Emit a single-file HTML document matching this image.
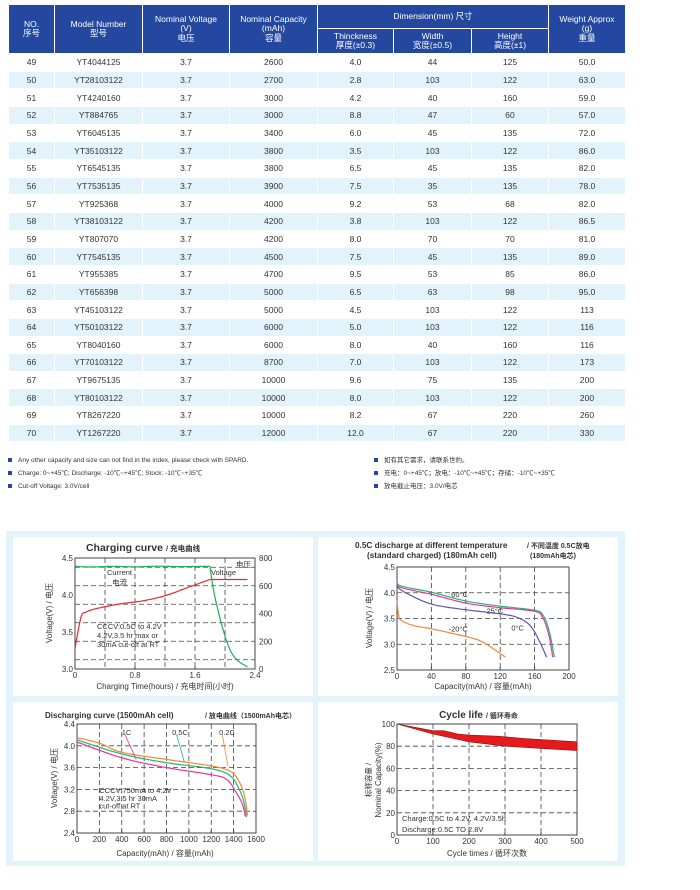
<!DOCTYPE html>
<html><head><meta charset="utf-8">
<style>
*{margin:0;padding:0;box-sizing:border-box}
body{width:700px;height:890px;background:#fff;position:relative;overflow:hidden;font-family:"Liberation Sans","Noto Sans CJK SC",sans-serif;color:#333}
table{position:absolute;left:8px;top:4px;border-collapse:collapse;table-layout:fixed;width:617px}
td,th{text-align:center;border:1px solid #fff;font-weight:normal;padding:0;white-space:nowrap;overflow:hidden}
th{background:#2447a0;color:#fff;font-size:8.5px;line-height:9.5px}
td{font-size:8.5px;height:17.67px;color:#333}
tr.e td{background:#e2f3fb}
.note{position:absolute;font-size:6.5px;line-height:8px;height:8px;color:#333;white-space:nowrap}
.note:before{content:"";display:inline-block;width:4px;height:4px;background:#2447a0;margin-right:6px;vertical-align:middle}
#box{position:absolute;left:6px;top:531px;width:619px;height:335px;background:#e3f3fb}
.pnl{position:absolute;background:#fff}
svg{position:absolute;left:0;top:0}
</style></head><body>
<table>
<colgroup><col style="width:46px"><col style="width:88px"><col style="width:87px"><col style="width:88px"><col style="width:76px"><col style="width:78px"><col style="width:77px"><col style="width:77px"></colgroup>
<tr style="height:24px"><th rowspan="2">NO.<br>序号</th><th rowspan="2">Model Number<br>型号</th><th rowspan="2">Nominal Voltage<br>(V)<br>电压</th><th rowspan="2">Nominal Capacity<br>(mAh)<br>容量</th><th colspan="3">Dimension(mm) 尺寸</th><th rowspan="2">Weight Approx<br>(g)<br>重量</th></tr>
<tr style="height:25px"><th>Thinckness<br>厚度(±0.3)</th><th>Width<br>宽度(±0.5)</th><th>Height<br>高度(±1)</th></tr>
<tr><td>49</td><td>YT4044125</td><td>3.7</td><td>2600</td><td>4.0</td><td>44</td><td>125</td><td>50.0</td></tr>
<tr class="e"><td>50</td><td>YT28103122</td><td>3.7</td><td>2700</td><td>2.8</td><td>103</td><td>122</td><td>63.0</td></tr>
<tr><td>51</td><td>YT4240160</td><td>3.7</td><td>3000</td><td>4.2</td><td>40</td><td>160</td><td>59.0</td></tr>
<tr class="e"><td>52</td><td>YT884765</td><td>3.7</td><td>3000</td><td>8.8</td><td>47</td><td>60</td><td>57.0</td></tr>
<tr><td>53</td><td>YT6045135</td><td>3.7</td><td>3400</td><td>6.0</td><td>45</td><td>135</td><td>72.0</td></tr>
<tr class="e"><td>54</td><td>YT35103122</td><td>3.7</td><td>3800</td><td>3.5</td><td>103</td><td>122</td><td>86.0</td></tr>
<tr><td>55</td><td>YT6545135</td><td>3.7</td><td>3800</td><td>6.5</td><td>45</td><td>135</td><td>82.0</td></tr>
<tr class="e"><td>56</td><td>YT7535135</td><td>3.7</td><td>3900</td><td>7.5</td><td>35</td><td>135</td><td>78.0</td></tr>
<tr><td>57</td><td>YT925368</td><td>3.7</td><td>4000</td><td>9.2</td><td>53</td><td>68</td><td>82.0</td></tr>
<tr class="e"><td>58</td><td>YT38103122</td><td>3.7</td><td>4200</td><td>3.8</td><td>103</td><td>122</td><td>86.5</td></tr>
<tr><td>59</td><td>YT807070</td><td>3.7</td><td>4200</td><td>8.0</td><td>70</td><td>70</td><td>81.0</td></tr>
<tr class="e"><td>60</td><td>YT7545135</td><td>3.7</td><td>4500</td><td>7.5</td><td>45</td><td>135</td><td>89.0</td></tr>
<tr><td>61</td><td>YT955385</td><td>3.7</td><td>4700</td><td>9.5</td><td>53</td><td>85</td><td>86.0</td></tr>
<tr class="e"><td>62</td><td>YT656398</td><td>3.7</td><td>5000</td><td>6.5</td><td>63</td><td>98</td><td>95.0</td></tr>
<tr><td>63</td><td>YT45103122</td><td>3.7</td><td>5000</td><td>4.5</td><td>103</td><td>122</td><td>113</td></tr>
<tr class="e"><td>64</td><td>YT50103122</td><td>3.7</td><td>6000</td><td>5.0</td><td>103</td><td>122</td><td>116</td></tr>
<tr><td>65</td><td>YT8040160</td><td>3.7</td><td>6000</td><td>8.0</td><td>40</td><td>160</td><td>116</td></tr>
<tr class="e"><td>66</td><td>YT70103122</td><td>3.7</td><td>8700</td><td>7.0</td><td>103</td><td>122</td><td>173</td></tr>
<tr><td>67</td><td>YT9675135</td><td>3.7</td><td>10000</td><td>9.6</td><td>75</td><td>135</td><td>200</td></tr>
<tr class="e"><td>68</td><td>YT80103122</td><td>3.7</td><td>10000</td><td>8.0</td><td>103</td><td>122</td><td>200</td></tr>
<tr><td>69</td><td>YT8267220</td><td>3.7</td><td>10000</td><td>8.2</td><td>67</td><td>220</td><td>260</td></tr>
<tr class="e"><td>70</td><td>YT1267220</td><td>3.7</td><td>12000</td><td>12.0</td><td>67</td><td>220</td><td>330</td></tr>
</table>
<div class="note" style="left:8px;top:457px">Any other capacity and size can not find in the index, please check with SPARD.</div>
<div class="note" style="left:8px;top:470px">Charge: 0~+45℃; Discharge: -10℃~+45℃; Stock: -10℃~+35℃</div>
<div class="note" style="left:8px;top:483px">Cut-off Voltage: 3.0V/cell</div>
<div class="note" style="left:374px;top:457px">如有其它需求，请联系世豹。</div>
<div class="note" style="left:374px;top:470px">充电：0~+45℃；放电：-10℃~+45℃；存储：-10℃~+35℃</div>
<div class="note" style="left:374px;top:483px">放电截止电压：3.0V/电芯</div>
<div id="box"></div>
<div class="pnl" style="left:13px;top:537px;width:300px;height:159px"></div>
<div class="pnl" style="left:318px;top:537px;width:300px;height:159px"></div>
<div class="pnl" style="left:13px;top:702px;width:300px;height:159px"></div>
<div class="pnl" style="left:318px;top:702px;width:300px;height:159px"></div>
<svg id="s" width="700" height="890" xmlns="http://www.w3.org/2000/svg" font-family="Liberation Sans, Noto Sans CJK SC, sans-serif"></svg>
<script>
var s=document.getElementById('s'),NS='http://www.w3.org/2000/svg';
function el(t,a,txt){var e=document.createElementNS(NS,t);for(var k in a)e.setAttribute(k,a[k]);if(txt!==undefined)e.textContent=txt;s.appendChild(e);return e;}
function T(x,y,t,o){o=o||{};var a={x:x,y:y,'font-size':o.fs||8,fill:o.c||'#333','text-anchor':o.a||'start'};if(o.b)a['font-weight']='bold';if(o.r)a.transform='rotate(-90 '+x+' '+y+')';el('text',a,t);}
function chart(c){
 var X=function(v){return c.x0+(v-c.xmin)/(c.xmax-c.xmin)*(c.x1-c.x0)},Y=function(v){return c.y1-(v-c.ymin)/(c.ymax-c.ymin)*(c.y1-c.y0)};
 c.X=X;c.Y=Y;
 c.gx.forEach(function(v){el('line',{x1:X(v),x2:X(v),y1:c.y0,y2:c.y1,stroke:'#444','stroke-width':0.8,'stroke-dasharray':'5,3'})});
 c.gy.forEach(function(v){el('line',{x1:c.x0,x2:c.x1,y1:Y(v),y2:Y(v),stroke:'#444','stroke-width':0.8,'stroke-dasharray':'5,3'})});
 el('rect',{x:c.x0,y:c.y0,width:c.x1-c.x0,height:c.y1-c.y0,fill:'none',stroke:'#444','stroke-width':1});
 c.xt.forEach(function(v){T(X(v),c.y1+9,String(v),{a:'middle',fs:8});el('line',{x1:X(v),x2:X(v),y1:c.y1,y2:c.y1-3,stroke:'#444'})});
 c.yt.forEach(function(v){T(c.x0-2,Y(v)+3,c.yf?c.yf(v):String(v),{a:'end',fs:8});});
 return c;}
function line(c,pts,col,w){var d=pts.map(function(p,i){return (i?'L':'M')+c.X(p[0]).toFixed(1)+' '+c.Y(p[1]).toFixed(1)}).join(' ');el('path',{d:d,fill:'none',stroke:col,'stroke-width':w||1.2,'stroke-linejoin':'round'});}
function sm(pts){var o=[];for(var i=0;i<pts.length-1;i++){var p0=pts[Math.max(0,i-1)],p1=pts[i],p2=pts[i+1],p3=pts[Math.min(pts.length-1,i+2)];for(var t=0;t<1;t+=0.1){var t2=t*t,t3=t2*t;var f=function(a,b,c2,d){return 0.5*((2*b)+(-a+c2)*t+(2*a-5*b+4*c2-d)*t2+(-a+3*b-3*c2+d)*t3)};o.push([f(p0[0],p1[0],p2[0],p3[0]),f(p0[1],p1[1],p2[1],p3[1])]);}}o.push(pts[pts.length-1]);return o;}
var f1=function(v){return v.toFixed(1)};
// Charging curve
T(163,551,'Charging curve',{a:'end',fs:10.5,b:1});T(166,551,'/ 充电曲线',{fs:7.5,b:1});
var c1=chart({x0:75,x1:255,y0:558,y1:669,xmin:0,xmax:2.4,ymin:3,ymax:4.5,gx:[0.4,0.8,1.2,1.6,2.0],gy:[3.125,3.375,3.625,3.875,4.125,4.375],xt:[0,0.8,1.6,2.4],yt:[3,3.5,4,4.5],yf:f1});
[0,200,400,600,800].forEach(function(v){T(259,c1.Y(3+v/800*1.5)+3,String(v),{fs:8})});
line(c1,sm([[0,3.28],[0.08,3.7],[0.15,3.77],[0.3,3.82],[0.6,3.88],[0.9,3.92],[1.2,3.99],[1.5,4.1],[1.8,4.21]]),'#e8282e');
line(c1,[[1.8,4.21],[2.3,4.21]],'#e8282e');
var ci=function(m){return 3+m/800*1.5};
line(c1,sm([[0,ci(740)],[0.2,ci(735)],[0.5,ci(740)],[0.8,ci(736)],[1.1,ci(741)],[1.4,ci(738)],[1.8,ci(740)]]),'#1fae5a');
line(c1,sm([[1.8,ci(740)],[1.85,ci(560)],[1.95,ci(330)],[2.05,ci(160)],[2.15,ci(70)],[2.3,ci(15)]]),'#1fae5a');
T(107,575,'Current',{fs:7.5});T(112,585,'电流',{fs:7.5});T(211,575,'Voltage',{fs:7.5});T(236,567,'电压',{fs:7.5});
T(97,629,'CCCV:0.5C to 4.2V',{fs:7.5});T(97,638,'4.2V,3.5 hr max or',{fs:7.5});T(97,647,'30mA cut-off at RT',{fs:7.5});
T(52,613,'Voltage(V) / 电压',{a:'middle',fs:8,r:1});
T(165,689,'Charging Time(hours) / 充电时间(小时)',{a:'middle',fs:8});
// Temperature discharge
T(355,548,'0.5C discharge at different temperature',{fs:8.2,b:1});T(527,548,'/ 不同温度 0.5C放电',{fs:7,b:1});
T(367,558,'(standard charged) (180mAh cell)',{fs:8.2,b:1});T(530,558,'(180mAh电芯)',{fs:7,b:1});
var c2=chart({x0:397,x1:569,y0:567,y1:670,xmin:0,xmax:200,ymin:2.5,ymax:4.5,gx:[40,80,120,160],gy:[3,3.5,4],xt:[0,40,80,120,160,200],yt:[2.5,3,3.5,4,4.5],yf:f1});
line(c2,sm([[0,4.22],[5,4.13],[40,4.01],[80,3.84],[120,3.74],[160,3.66],[170,3.56],[177,3.25],[183,2.75]]),'#25b670');
line(c2,sm([[0,4.19],[5,4.1],[40,3.97],[80,3.8],[120,3.71],[160,3.64],[170,3.5],[177,3.15],[181,2.75]]),'#e8359a');
line(c2,sm([[0,4.12],[10,4.0],[40,3.78],[80,3.67],[120,3.59],[140,3.52],[155,3.36],[165,3.08],[174,2.75]]),'#5a56b0');
line(c2,sm([[0,3.85],[2,3.55],[6,3.45],[20,3.36],[40,3.3],[80,3.15],[100,3.04],[126,2.75]]),'#f0883a');
T(c2.X(63),c2.Y(3.92),'60°C',{fs:7.5});T(c2.X(104),c2.Y(3.6),'25°C',{fs:7.5});T(c2.X(133),c2.Y(3.27),'0°C',{fs:7.5});T(c2.X(60),c2.Y(3.25),'-20°C',{fs:7.5});
T(372,618,'Voltage(V) / 电压',{a:'middle',fs:8,r:1});
T(483,689,'Capacity(mAh)  / 容量(mAh)',{a:'middle',fs:8});
// Discharging curve
T(45,718,'Discharging curve (1500mAh cell)',{fs:8,b:1});T(205,718,'/ 放电曲线（1500mAh电芯）',{fs:7,b:1});
var c3=chart({x0:77,x1:256,y0:724,y1:833,xmin:0,xmax:1600,ymin:2.4,ymax:4.4,gx:[200,400,600,800,1000,1200,1400],gy:[2.8,3.2,3.6,4.0],xt:[0,200,400,600,800,1000,1200,1400,1600],yt:[2.4,2.8,3.2,3.6,4.0,4.4],yf:f1});
line(c3,sm([[0,4.15],[200,4.05],[400,3.88],[800,3.75],[1200,3.63],[1380,3.52],[1460,3.3],[1500,3.05],[1525,2.72]]),'#f0883a');
line(c3,sm([[0,4.11],[400,3.85],[800,3.69],[1200,3.58],[1370,3.45],[1450,3.2],[1490,2.98],[1515,2.7]]),'#25b670');
line(c3,sm([[0,4.07],[400,3.78],[800,3.6],[1200,3.47],[1340,3.38],[1430,3.12],[1480,2.92],[1505,2.7]]),'#e8359a');
line(c3,[[430,4.2],[530,3.75]],'#e8359a',0.8);line(c3,[[890,4.2],[960,3.7]],'#25b670',0.8);line(c3,[[1300,4.2],[1350,3.62]],'#f0883a',0.8);
T(c3.X(400),c3.Y(4.2),'1C',{fs:7.5});T(c3.X(850),c3.Y(4.2),'0.5C',{fs:7.5});T(c3.X(1270),c3.Y(4.2),'0.2C',{fs:7.5});
T(c3.X(200),c3.Y(3.13),'CCCV:750mA to 4.2V',{fs:7.5});T(c3.X(200),c3.Y(2.99),'4.2V,3.5 hr 30mA',{fs:7.5});T(c3.X(200),c3.Y(2.85),'cut-off at RT',{fs:7.5});
T(57,778,'Voltage(V) / 电压',{a:'middle',fs:8,r:1});
T(165,856,'Capacity(mAh) / 容量(mAh)',{a:'middle',fs:8});
// Cycle life
T(483,718,'Cycle life',{a:'end',fs:10,b:1});T(486,718,'/ 循环寿命',{fs:7,b:1});
var c4=chart({x0:397,x1:577,y0:724,y1:835,xmin:0,xmax:500,ymin:0,ymax:100,gx:[100,200,300,400],gy:[20,40,60,80],xt:[0,100,200,300,400,500],yt:[0,20,40,60,80,100]});
var up=[[0,100],[50,97],[100,94],[130,94],[170,91],[200,90],[280,89],[350,87],[400,86],[500,84]],lo=[[500,76],[400,78],[300,80],[200,84],[100,91],[0,100]];
el('path',{d:up.concat(lo).map(function(p,i){return (i?'L':'M')+c4.X(p[0]).toFixed(1)+' '+c4.Y(p[1]).toFixed(1)}).join(' ')+'Z',fill:'#e41a1c',stroke:'#8a1010','stroke-width':0.6});
T(402,821,'Charge:0.5C to 4.2V, 4.2V/3.5h',{fs:7.5});T(402,832,'Discharge:0.5C TO 2.8V',{fs:7.5});
T(371,780,'标称容量 /',{a:'middle',fs:7.5,r:1});T(381,780,'Nominal Capacity(%)',{a:'middle',fs:8,r:1});
T(487,856,'Cycle times / 循环次数',{a:'middle',fs:8});
</script>
</body></html>
